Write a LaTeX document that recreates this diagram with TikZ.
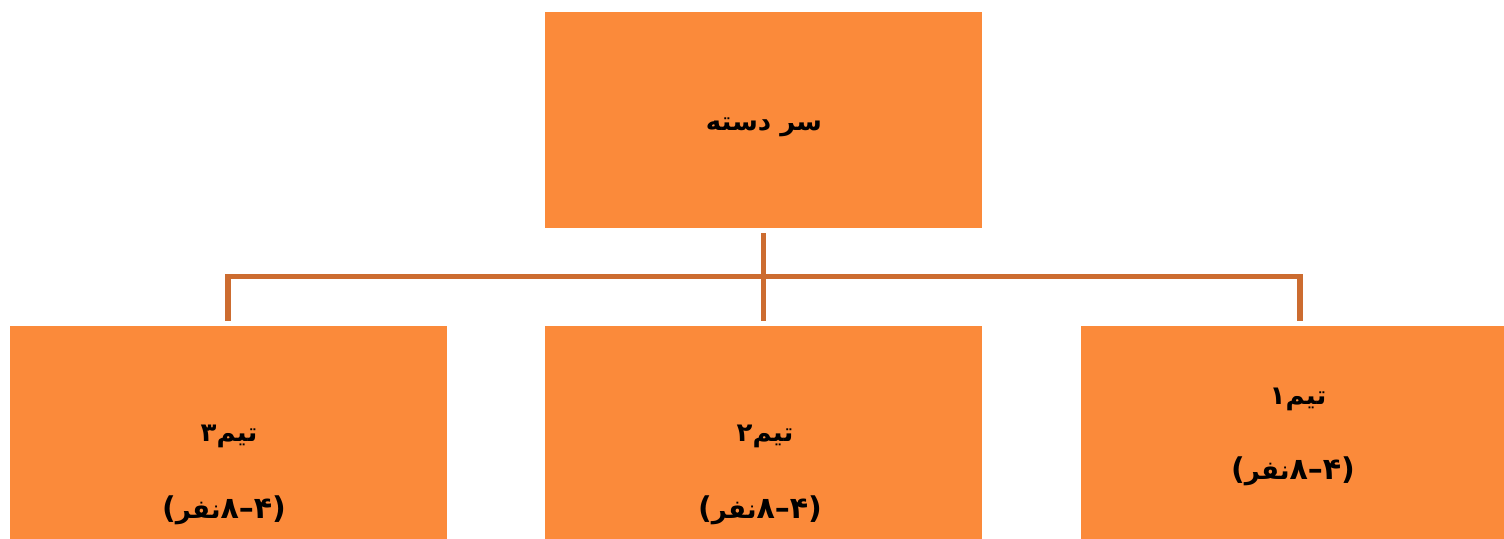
\documentclass[tikz,border=0pt]{standalone}
\usepackage{fontspec}
\usepackage{xcolor}
\TeXXeTstate=1
\newfontfamily\arabicfont[Script=Arabic]{DejaVu Sans}
\newfontfamily\digitfont{DejaVu Sans}
\definecolor{boxorange}{RGB}{251,138,58}
\definecolor{linkbrown}{RGB}{204,108,48}
% team size, set in visual order
\newcommand{\teamsize}{{\digitfont\fontsize{30}{34}\selectfont(}{\arabicfont نفر}{\digitfont\fontsize{30}{34}\selectfont ۸–۴)}}

\begin{document}
\begin{tikzpicture}[x=1pt,y=1pt,
    box/.style={fill=boxorange, minimum width=437pt, minimum height=216pt, inner sep=0pt},
    txt/.style={font=\bfseries\fontsize{26}{30}\selectfont, inner sep=0pt},
    link/.style={draw=linkbrown, line width=5.5pt}]
    \useasboundingbox (0,0) rectangle (1504,538);
    \clip (0,0) rectangle (1504,538);

    % Draw the boxes
    \node[box] (lead) at (763.5,418) {};
    \node[box] (team3) at (228,104) {};
    \node[box] (team2) at (763.5,104) {};
    \node[box] (team1) at (1299.5,104) {};

    % Texts
    \node[txt] (leadtxt) at (764,411) {\arabicfont\beginR سر دسته\endR};
    \node[txt] (team3a) at (229,102) {\arabicfont\beginR تیم۳\endR};
    \node[txt] (team3b) at (224,28) {\teamsize};
    \node[txt] (team2a) at (765,102) {\arabicfont\beginR تیم۲\endR};
    \node[txt] (team2b) at (760,28) {\teamsize};
    \node[txt] (team1a) at (1298,139) {\arabicfont\beginR تیم۱\endR};
    \node[txt] (team1b) at (1293,67) {\teamsize};

    % Draw the tree lines
    \coordinate (hub) at ([yshift=-48.5]lead.south);
    \draw[link] ([yshift=-5]lead.south) -- ([yshift=5]team2.north);
    \draw[link] ([yshift=5]team3.north) |- (hub) -| ([xshift=0.5,yshift=5]team1.north);
\end{tikzpicture}
\end{document}
